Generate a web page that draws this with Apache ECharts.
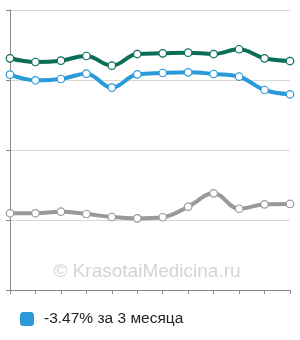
<!DOCTYPE html>
<html><head><meta charset="utf-8">
<script src="https://cdn.jsdelivr.net/npm/echarts@6/dist/echarts.min.js"></script>
<style>html,body{margin:0;padding:0;background:#fff}#c{width:300px;height:340px}</style>
</head><body><div id="c"></div>
<script>
const categories = ['1','2','3','4','5','6','7','8','9','10','11','12'];
const greenValues = [3.31, 3.257, 3.276, 3.343, 3.204, 3.371, 3.381, 3.39, 3.371, 3.439, 3.31, 3.271];
const blueValues = [3.076, 2.996, 3.014, 3.09, 2.89, 3.081, 3.1, 3.11, 3.086, 3.047, 2.857, 2.796];
const grayValues = [1.096, 1.096, 1.119, 1.086, 1.043, 1.024, 1.039, 1.19, 1.381, 1.161, 1.224, 1.229];
const legendLabel = '-3.47% за 3 месяца';
const watermark = '© KrasotaiMedicina.ru';

const chart = echarts.init(document.getElementById('c'), null, {renderer:'canvas'});
function mk(name, data, color){
  return {
    name, type:'line', data, smooth:0.4, symbol:'circle', symbolSize:7.5,
    lineStyle:{color, width:4},
    itemStyle:{color:'#fff', borderColor:color, borderWidth:1.2},
    emphasis:{disabled:true}, z: 2
  };
}
chart.setOption({
  animation:false,
  grid:{left:10, right:10, top:10, bottom:50},
  graphic:[{type:'text', x:147, y:272, z:0,
    style:{text:watermark, fill:'#d4d4d4', align:'center', verticalAlign:'middle', font:'19px "Liberation Sans", Arial, sans-serif'}}],
  legend:{
    left:20, top:311, padding:0, itemWidth:14, itemHeight:14, selectedMode:false,
    data:[{name:legendLabel, icon:'roundRect', itemStyle:{color:'#2b9ad8', borderWidth:0}}],
    textStyle:{fontFamily:'"Liberation Sans", Arial, sans-serif', fontSize:15.5, color:'#222', padding:[0,0,0,5]}
  },
  xAxis:{type:'category', data:categories, boundaryGap:false,
    axisLine:{lineStyle:{color:'#888'}},
    axisTick:{show:true, length:4, lineStyle:{color:'#888'}},
    axisLabel:{show:false}, splitLine:{show:false}},
  yAxis:{type:'value', min:0, max:4, interval:1,
    axisLine:{show:true, lineStyle:{color:'#888'}},
    axisTick:{show:true, length:4, lineStyle:{color:'#888'}},
    axisLabel:{show:false},
    splitLine:{show:true, lineStyle:{color:'#d8d8d8'}}},
  series:[
    mk('g', greenValues, '#0b6e58'),
    mk(legendLabel, blueValues, '#2b9ad8'),
    mk('gr', grayValues, '#999999')
  ]
});
</script></body></html>
